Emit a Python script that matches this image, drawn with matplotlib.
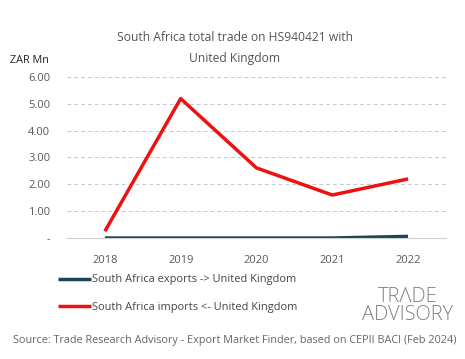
import numpy as np
import matplotlib
matplotlib.use("Agg")
import matplotlib.pyplot as plt

years = ["2018", "2019", "2020", "2021", "2022"]
exports_uk = [0.0, 0.0, 0.0, 0.0, 0.06]
imports_uk = [0.25, 5.19, 2.61, 1.60, 2.20]
y_ticks = [0, 1, 2, 3, 4, 5, 6]
y_tick_labels = ["-", "1.00", "2.00", "3.00", "4.00", "5.00", "6.00"]

plt.rcParams['font.family'] = ['Open Sans', 'DejaVu Sans']

fig = plt.figure(figsize=(4.65, 3.59), dpi=100)
ax = fig.add_axes([0.144, 0.337, 0.815, 0.449])

x = np.arange(len(years))
ax.plot(x, exports_uk, color="#1b4557", lw=2.5, solid_capstyle="butt",
        label="South Africa exports -> United Kingdom")
ax.plot(x, imports_uk, color="#ee1111", lw=2.5, solid_capstyle="butt",
        label="South Africa imports <- United Kingdom")

ax.set_xlim(-0.5, len(years) - 0.5)
ax.set_ylim(0, 6)
ax.set_xticks(x)
ax.set_xticklabels(years)
ax.set_yticks(y_ticks)
ax.set_yticklabels(y_tick_labels)
ax.tick_params(length=0, labelsize=8, colors="#595959", pad=12)
ax.tick_params(axis="x", pad=12)
for s in ["top", "right", "left"]:
    ax.spines[s].set_visible(False)
ax.spines["bottom"].set_color("#d0d0d0")
ax.yaxis.grid(True, color="#c8c8c8", ls=(0, (4, 3)), lw=0.7)
ax.set_axisbelow(True)

fig.text(0.505, 0.895, "South Africa total trade on HS940421 with",
         ha="center", va="center", fontsize=8.7, color="#555555")
fig.text(0.505, 0.838, "United Kingdom",
         ha="center", va="center", fontsize=8.7, color="#555555")
fig.text(0.022, 0.832, "ZAR Mn", ha="left", va="center", fontsize=7.8,
         color="#222222")

leg = fig.legend(loc="upper left", bbox_to_anchor=(0.115, 0.248),
                 frameon=False, fontsize=7.9, handlelength=3.0,
                 handletextpad=0.1, labelspacing=1.5, borderaxespad=0)
for t in leg.get_texts():
    t.set_color("#444444")

fig.text(0.877, 0.147, "TRΛDE\nADVISORY", ha="center", va="center",
         fontsize=14.5, color="#808080", linespacing=0.85,
         fontweight="light")

fig.text(0.505, 0.052,
         "Source: Trade Research Advisory - Export Market Finder, based on CEPII BACI (Feb 2024)",
         ha="center", va="center", fontsize=7.8, color="#666666")

fig.savefig("out.png", dpi=100)
